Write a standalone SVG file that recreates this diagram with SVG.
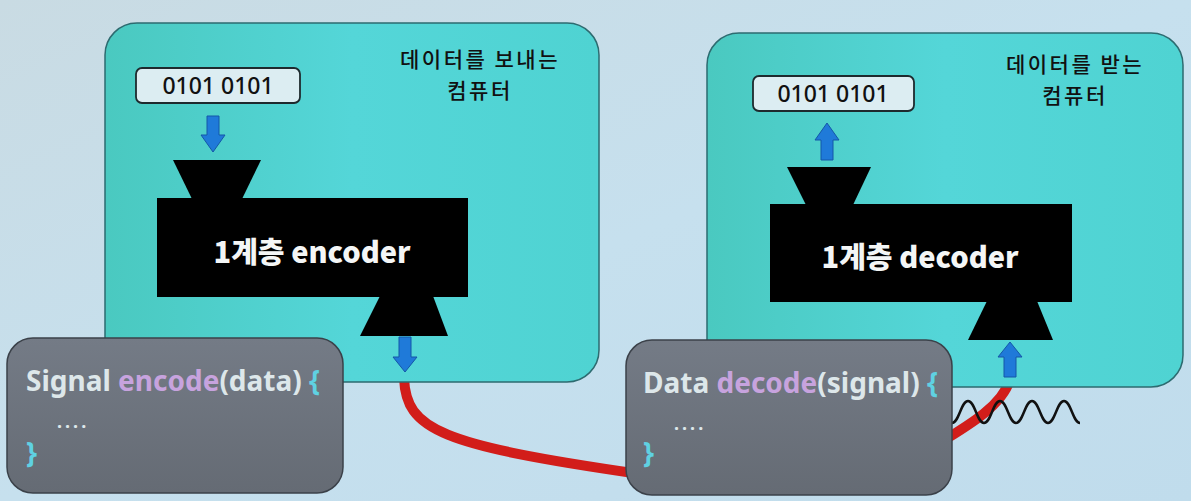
<svg xmlns="http://www.w3.org/2000/svg" width="1191" height="501" viewBox="0 0 1191 501">
<defs>
<linearGradient id="bg" x1="0" y1="0" x2="1" y2="1">
<stop offset="0" stop-color="#c9dbe3"/>
<stop offset="0.5" stop-color="#c6e0ee"/>
<stop offset="1" stop-color="#c0dcec"/>
</linearGradient>
<linearGradient id="teal" x1="0" y1="0" x2="1" y2="0">
<stop offset="0" stop-color="#4ac9c0"/>
<stop offset="0.5" stop-color="#54d6d8"/>
<stop offset="1" stop-color="#4fd3d2"/>
</linearGradient>
<linearGradient id="code" x1="0" y1="0" x2="0" y2="1">
<stop offset="0" stop-color="#747b86"/>
<stop offset="1" stop-color="#656b74"/>
</linearGradient>
<style>
.comp{fill:url(#teal);stroke:#2d6b70;stroke-width:1.5}
.num{fill:#dcedf2;stroke:#1e2a2e;stroke-width:1.8}
.numt{font-family:"Noto Sans","Liberation Sans",sans-serif;font-size:23px;font-weight:500;fill:#111;text-anchor:middle}
.lbl{font-family:"Noto Sans CJK KR","Noto Sans",sans-serif;font-size:21px;font-weight:500;letter-spacing:2.5px;fill:#111;text-anchor:middle}
.blk{fill:#000}
.coder{font-family:"Noto Sans CJK KR","Noto Sans",sans-serif;font-size:29px;font-weight:900;fill:#f4f6f6;text-anchor:middle}
.arrow{fill:#1f7ad9;stroke:#1457a8;stroke-width:1}
.cbox{fill:url(#code);stroke:#3b4149;stroke-width:1.5}
.code{font-family:"Noto Sans","Liberation Sans",sans-serif;font-size:28px;font-weight:700}
.dots{font-family:"Noto Sans","Liberation Sans",sans-serif;font-size:18px;font-weight:700;letter-spacing:3px;fill:#dde7ea}
.w{fill:#dde7ea}
.p{fill:#c7a3de}
.c{fill:#5fd1e2}
.cable{fill:none;stroke:#d21d1a;stroke-width:10;stroke-linecap:butt}
.wave{fill:none;stroke:#111;stroke-width:2.5}
</style>
</defs>
<rect width="1191" height="501" fill="url(#bg)"/>

<g id="connectors">
<path class="cable" d="M404 378 C406 430 440 445 640 474"/>
<path class="cable" d="M925 452 C960 430 1000 410 1010 380"/>
</g>

<g id="sender">
<rect class="comp" x="105" y="23" width="494" height="359" rx="32"/>
<text class="lbl" x="480" y="67">데이터를 보내는</text>
<text class="lbl" x="480" y="98">컴퓨터</text>
<rect class="num" x="136" y="68" width="164" height="35" rx="6"/>
<text class="numt" x="218" y="94">0101 0101</text>
<path class="arrow" d="M207 116 H219 V135 H225 L213 152 L201 135 H207 Z"/>
<polygon class="blk" points="173,160 261,160 242,199 192,199"/>
<rect class="blk" x="157" y="198" width="311" height="99"/>
<polygon class="blk" points="380,296 433,296 448,336 360,336"/>
<text class="coder" x="312" y="263">1계층 encoder</text>
<path class="arrow" d="M399 337 H411 V357 H417 L405 372 L393 357 H399 Z"/>
</g>

<g id="receiver">
<rect class="comp" x="707" y="33" width="476" height="354" rx="32"/>
<text class="lbl" x="1075" y="72">데이터를 받는</text>
<text class="lbl" x="1075" y="103">컴퓨터</text>
<rect class="num" x="753" y="76" width="161" height="35" rx="6"/>
<text class="numt" x="833" y="102">0101 0101</text>
<path class="arrow" d="M827 123 L839 140 H833 V160 H821 V140 H815 Z"/>
<polygon class="blk" points="787,167 871,167 853,205 806,205"/>
<rect class="blk" x="770" y="204" width="302" height="98"/>
<polygon class="blk" points="987,301 1037,301 1053,340 968,340"/>
<text class="coder" x="920" y="268">1계층 decoder</text>
<path class="arrow" d="M1010 342 L1022 357 H1016 V377 H1004 V357 H998 Z"/>
</g>

<g id="signal-wave">
<path class="wave" d="M952 423 C959 423 961 401 968 401 C975 401 977 423 984 423 C991 423 993 401 1000 401 C1007 401 1009 423 1016 423 C1023 423 1025 401 1032 401 C1039 401 1041 423 1048 423 C1055 423 1057 401 1064 401 C1071 401 1073 423 1080 423"/>
</g>

<g id="encode-code">
<rect class="cbox" x="7" y="338" width="336" height="155" rx="26"/>
<text class="code" x="26" y="391"><tspan class="w">Signal </tspan><tspan class="p">encode</tspan><tspan class="w">(data) </tspan><tspan class="c">{</tspan></text>
<text class="dots" x="57" y="428">....</text>
<text class="code c" x="26" y="463">}</text>
</g>

<g id="decode-code">
<rect class="cbox" x="626" y="340" width="326" height="155" rx="26"/>
<text class="code" x="643" y="393"><tspan class="w">Data </tspan><tspan class="p">decode</tspan><tspan class="w">(signal) </tspan><tspan class="c">{</tspan></text>
<text class="dots" x="674" y="430">....</text>
<text class="code c" x="643" y="463">}</text>
</g>
</svg>
